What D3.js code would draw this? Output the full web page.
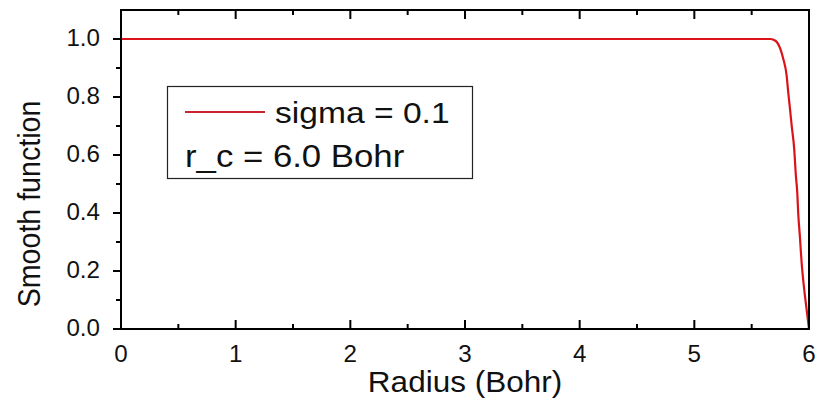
<!DOCTYPE html>
<html>
<head>
<meta charset="utf-8">
<script src="https://cdn.jsdelivr.net/npm/d3@7"></script>
<style>
  html, body { margin: 0; padding: 0; background: #fff; }
  svg { display: block; }
  text { font-family: "Liberation Sans", Arial, sans-serif; fill: #111; }
</style>
</head>
<body>
<svg id="chart" width="827" height="401"></svg>
<script>
// Smooth cutoff function sampled along the radius (Bohr)
const radius = [0, 1, 2, 3, 4, 5, 5.5, 5.664, 5.707, 5.750, 5.776, 5.805, 5.819, 5.834,
                5.849, 5.872, 5.884, 5.898, 5.906, 5.921, 5.936, 5.959, 5.980, 6.0];
const smooth = [1, 1, 1, 1, 1, 1, 1, 1.0, 0.994, 0.966, 0.931, 0.874, 0.816, 0.760,
                0.701, 0.616, 0.537, 0.468, 0.399, 0.316, 0.227, 0.134, 0.065, 0.0];

const xTicks = [0, 1, 2, 3, 4, 5, 6];
const xMinor = [0.5, 1.5, 2.5, 3.5, 4.5, 5.5];
const yTicks = [0.0, 0.2, 0.4, 0.6, 0.8, 1.0];
const yMinor = [0.1, 0.3, 0.5, 0.7, 0.9];
const legendLines = ["sigma = 0.1", "r_c = 6.0 Bohr"];

const svg = d3.select("#chart");
const plotL = 121, plotR = 809, plotT = 10, plotB = 329;

const x = d3.scaleLinear().domain([0, 6]).range([plotL, plotR]);
const y = d3.scaleLinear().domain([0, 1.1]).range([plotB, plotT]);

const red = "#dc1219";

// curve
const line = d3.line().x((d, i) => x(radius[i])).y(d => y(d)).curve(d3.curveMonotoneX);
svg.append("path")
  .attr("d", line(smooth))
  .attr("fill", "none")
  .attr("stroke", red)
  .attr("stroke-width", 2.2);

// ticks
const g = svg.append("g").attr("stroke", "#000").attr("stroke-width", 2);
// left: outward
yTicks.forEach(v => g.append("line").attr("x1", plotL - 8).attr("x2", plotL).attr("y1", y(v)).attr("y2", y(v)));
yMinor.forEach(v => g.append("line").attr("x1", plotL - 5).attr("x2", plotL).attr("y1", y(v)).attr("y2", y(v)));
// bottom: inward
xTicks.forEach(v => g.append("line").attr("x1", x(v)).attr("x2", x(v)).attr("y1", plotB).attr("y2", plotB - 9));
xMinor.forEach(v => g.append("line").attr("x1", x(v)).attr("x2", x(v)).attr("y1", plotB).attr("y2", plotB - 5));
// top: inward
xTicks.forEach(v => g.append("line").attr("x1", x(v)).attr("x2", x(v)).attr("y1", plotT).attr("y2", plotT + 9));
xMinor.forEach(v => g.append("line").attr("x1", x(v)).attr("x2", x(v)).attr("y1", plotT).attr("y2", plotT + 5));

// frame
svg.append("rect")
  .attr("x", plotL).attr("y", plotT)
  .attr("width", plotR - plotL).attr("height", plotB - plotT)
  .attr("fill", "none").attr("stroke", "#000").attr("stroke-width", 2);

// tick labels
yTicks.forEach(v => {
  svg.append("text")
    .attr("transform", `translate(100,${y(v)}) scale(1.05,1)`)
    .attr("text-anchor", "end")
    .attr("dy", "0.3em")
    .attr("font-size", 23)
    .text(v.toFixed(1));
});
xTicks.forEach(v => {
  svg.append("text")
    .attr("transform", `translate(${x(v)},362) scale(1.05,1)`)
    .attr("text-anchor", "middle")
    .attr("font-size", 23)
    .text(d3.format("d")(v));
});

// axis titles
svg.append("text")
  .attr("transform", `translate(465,392) scale(1.05,1)`)
  .attr("text-anchor", "middle")
  .attr("font-size", 30)
  .text("Radius (Bohr)");
svg.append("text")
  .attr("transform", `translate(40,204) scale(1.08,1) rotate(-90)`)
  .attr("text-anchor", "middle")
  .attr("font-size", 28.6)
  .text("Smooth function");

// legend
const lg = svg.append("g");
lg.append("rect")
  .attr("x", 167.5).attr("y", 86.5).attr("width", 305).attr("height", 92)
  .attr("fill", "#fff").attr("stroke", "#222").attr("stroke-width", 1.2);
lg.append("line")
  .attr("x1", 185).attr("x2", 265).attr("y1", 112).attr("y2", 112)
  .attr("stroke", "#c8222a").attr("stroke-width", 2.2);
lg.append("text")
  .attr("transform", `translate(275,123) scale(1.12,1)`)
  .attr("font-size", 30)
  .text(legendLines[0]);
lg.append("text")
  .attr("transform", `translate(185,167) scale(1.14,1)`)
  .attr("font-size", 30.5)
  .text(legendLines[1]);
</script>
</body>
</html>
